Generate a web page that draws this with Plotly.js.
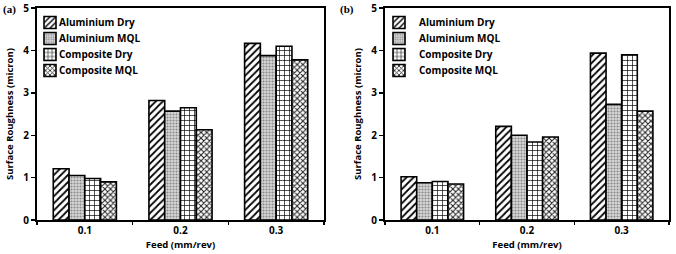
<!DOCTYPE html>
<html><head><meta charset="utf-8">
<script src="https://cdn.plot.ly/plotly-3.0.1.min.js"></script>
<style>html,body{margin:0;padding:0;background:#fff;}#chart{width:676px;height:254px;}</style>
</head><body><div id="chart"></div>
<script>
const feeds = ['0.1', '0.2', '0.3'];
const seriesNames = ['Aluminium Dry', 'Aluminium MQL', 'Composite Dry', 'Composite MQL'];
// Panel (a)
const aAluDry = [1.21, 2.82, 4.17];
const aAluMQL = [1.05, 2.57, 3.88];
const aCompDry = [0.98, 2.65, 4.10];
const aCompMQL = [0.90, 2.13, 3.78];
// Panel (b)
const bAluDry = [1.02, 2.21, 3.94];
const bAluMQL = [0.88, 2.00, 2.73];
const bCompDry = [0.91, 1.84, 3.90];
const bCompMQL = [0.85, 1.96, 2.57];
const yTicks = [0, 1, 2, 3, 4, 5];

const patterns = [
  {shape: '/', fgcolor: '#000', bgcolor: '#fff', size: 5, solidity: 0.35},
  {shape: '.', fgcolor: '#8a8a8a', bgcolor: '#d8d8d8', size: 3, solidity: 0.4},
  {shape: '+', fgcolor: '#000', bgcolor: '#fff', size: 5, solidity: 0.25},
  {shape: 'x', fgcolor: '#222', bgcolor: '#fff', size: 4, solidity: 0.45}
];

function mk(vals, i, xa, ya, leg) {
  return {
    type: 'bar', x: feeds, y: vals, name: seriesNames[i],
    xaxis: xa, yaxis: ya, legend: leg,
    marker: {color: '#fff', pattern: patterns[i], line: {color: '#000', width: 1.6}},
    hoverinfo: 'skip'
  };
}
const aSets = [aAluDry, aAluMQL, aCompDry, aCompMQL];
const bSets = [bAluDry, bAluMQL, bCompDry, bCompMQL];
const data = [];
aSets.forEach((v, i) => data.push(mk(v, i, 'x', 'y', 'legend')));
bSets.forEach((v, i) => data.push(mk(v, i, 'x2', 'y2', 'legend2')));

const tfont = {family: 'Open Sans, sans-serif', size: 10, color: '#000', weight: 'bold'};
const afont = {family: 'Open Sans, sans-serif', size: 9.5, color: '#000', weight: 'bold'};
function xax(dom, anchor) {
  return {domain: dom, anchor: anchor, type: 'category', showline: true, linewidth: 2, linecolor: '#000',
    mirror: true, ticks: 'outside', ticklen: 3, tickwidth: 1.5, tickcolor: '#000', tickson: 'boundaries',
    tickfont: tfont, showgrid: false, zeroline: false,
    title: {text: 'Feed (mm/rev)', font: afont, standoff: 5}};
}
function yax(dom, anchor) {
  return {domain: dom, anchor: anchor, range: [0, 5.004], tickvals: yTicks, showline: true, linewidth: 2,
    linecolor: '#000', mirror: true, ticks: 'outside', ticklen: 4, tickwidth: 1.5, tickcolor: '#000',
    tickfont: tfont, showgrid: false, zeroline: false, ticklabeloverflow: 'allow',
    title: {text: 'Surface Roughness (micron)', font: afont, standoff: 8}};
}
const yd = [34/254, 246/254];
const legendFont = {family: 'Open Sans, sans-serif', size: 10, color: '#000', weight: 'bold'};
const layout = {
  width: 676, height: 254, margin: {l: 0, r: 0, t: 0, b: 0},
  paper_bgcolor: '#fff', plot_bgcolor: '#fff', showlegend: true,
  barmode: 'group', bargap: 0.34, bargroupgap: 0,
  xaxis: xax([37/676, 324/676], 'y'),
  yaxis: yax(yd, 'x'),
  xaxis2: xax([385/676, 669/676], 'y2'),
  yaxis2: yax(yd, 'x2'),
  legend: {x: 30/676, y: 246/254, xanchor: 'left', yanchor: 'top', font: legendFont,
    bgcolor: 'rgba(0,0,0,0)', itemwidth: 30, tracegroupgap: 0, traceorder: 'normal'},
  legend2: {x: 379/676, y: 246/254, xanchor: 'left', yanchor: 'top', font: legendFont,
    bgcolor: 'rgba(0,0,0,0)', itemwidth: 30, tracegroupgap: 0, traceorder: 'normal'},
  annotations: [
    {text: '(a)', xref: 'paper', yref: 'paper', x: 1/676, y: 253/254, xanchor: 'left', yanchor: 'top',
      showarrow: false, font: {family: 'Liberation Serif, serif', size: 11, color: '#000', weight: 'bold'}},
    {text: '(b)', xref: 'paper', yref: 'paper', x: 338/676, y: 253/254, xanchor: 'left', yanchor: 'top',
      showarrow: false, font: {family: 'Liberation Serif, serif', size: 11, color: '#000', weight: 'bold'}}
  ]
};

function tightenLegends(gd) {
  gd.querySelectorAll('g.legend, g.legend2').forEach(leg => {
    const items = Array.from(leg.querySelectorAll('g.traces'));
    if (!items.length) return;
    const ys = items.map(g => g.getCTM().f);
    const order = items.map((g, i) => i).sort((a, b) => ys[a] - ys[b]);
    const y0 = ys[order[0]];
    order.forEach((idx, rank) => {
      const g = items[idx];
      const delta = (y0 + rank * 16) - ys[idx];
      if (Math.abs(delta) < 0.01) return;
      const m = /translate\(\s*([-\d.e]+)[ ,]+([-\d.e]+)\s*\)/.exec(g.getAttribute('transform') || '');
      const tx = m ? parseFloat(m[1]) : 0, ty = m ? parseFloat(m[2]) : 0;
      g.setAttribute('transform', 'translate(' + tx + ',' + (ty + delta) + ')');
    });
    items.forEach(g => {
      const t = g.querySelector('text.legendtext');
      const pts = g.querySelector('g.legendpoints');
      if (!t || !pts) return;
      const tr = t.getBoundingClientRect(), pr = pts.getBoundingClientRect();
      if (!tr.width || !pr.width) return;
      const diff = tr.left - (pr.right + 3);
      if (Math.abs(diff) > 1) {
        const prev = t.getAttribute('transform') || '';
        t.setAttribute('transform', 'translate(' + (-diff) + ',0) ' + prev);
      }
    });
  });
}

Plotly.newPlot('chart', data, layout, {staticPlot: true, displayModeBar: false}).then(gd => {
  tightenLegends(gd);
  gd.on('plotly_afterplot', () => tightenLegends(gd));
  setTimeout(() => tightenLegends(gd), 50);
  setTimeout(() => tightenLegends(gd), 300);
});
</script></body></html>
